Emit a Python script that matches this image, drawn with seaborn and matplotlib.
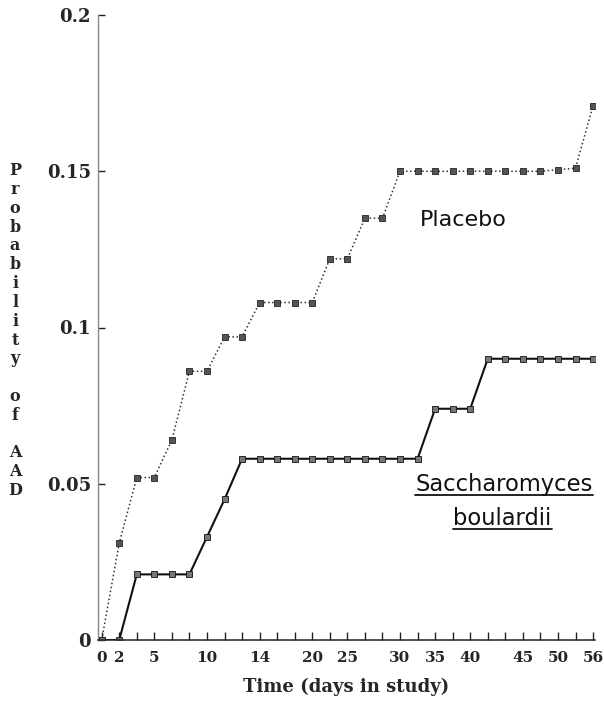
import numpy as np
import pandas as pd
import matplotlib
matplotlib.use("Agg")
import matplotlib.pyplot as plt
from matplotlib.lines import Line2D
import seaborn as sns

# ---- data -------------------------------------------------------------
time_labels = ['0', '2', '', '5', '', '', '10', '', '', '14', '', '', '20', '',
               '25', '', '', '30', '', '35', '', '40', '', '', '45', '', '50', '', '56']
placebo = [0.000, 0.031, 0.052, 0.052, 0.064, 0.086, 0.086, 0.097, 0.097, 0.108,
           0.108, 0.108, 0.108, 0.122, 0.122, 0.135, 0.135, 0.150, 0.150, 0.150,
           0.150, 0.150, 0.150, 0.150, 0.150, 0.150, 0.1505, 0.151, 0.171]
sacch = [0.000, 0.000, 0.021, 0.021, 0.021, 0.021, 0.033, 0.045, 0.058, 0.058,
         0.058, 0.058, 0.058, 0.058, 0.058, 0.058, 0.058, 0.058, 0.058, 0.074,
         0.074, 0.074, 0.090, 0.090, 0.090, 0.090, 0.090, 0.090, 0.090]
y_ticks = [0, 0.05, 0.1, 0.15, 0.2]
y_tick_labels = ['0', '0.05', '0.1', '0.15', '0.2']

pos = np.arange(len(time_labels))
df = pd.DataFrame({'pos': pos, 'Placebo': placebo, 'Sacch': sacch})

sns.set_theme(style="ticks")
plt.rcParams['font.family'] = ['DejaVu Sans']

fig = plt.figure(figsize=(6.04, 7.04), dpi=100)
ax = fig.add_axes([98 / 604, 1 - 640 / 704, 497 / 604, 625 / 704])

sns.lineplot(data=df, x='pos', y='Placebo', ax=ax, color='#333333', linestyle=':',
             linewidth=1.1, marker='s', markersize=3.8, markerfacecolor='#555555',
             markeredgecolor='#222222', markeredgewidth=0.6)
sns.lineplot(data=df, x='pos', y='Sacch', ax=ax, color='#111111', linestyle='-',
             linewidth=1.5, marker='s', markersize=3.8, markerfacecolor='#777777',
             markeredgecolor='#111111', markeredgewidth=0.6)

ax.set_xlim(-0.21, 28.11)
ax.set_ylim(0, 0.2)
ax.set_xticks(pos)
ax.set_xticklabels(time_labels)
ax.set_yticks(y_ticks)
ax.set_yticklabels(y_tick_labels)

serif = ['DejaVu Serif']
for lab in ax.get_xticklabels():
    lab.set_fontfamily(serif); lab.set_fontweight('bold'); lab.set_fontsize(11)
for lab in ax.get_yticklabels():
    lab.set_fontfamily(serif); lab.set_fontweight('bold'); lab.set_fontsize(13)

ax.tick_params(axis='x', direction='in', length=6, width=1, color='#222222', pad=8)
ax.tick_params(axis='y', direction='in', length=5, width=1, color='#222222', pad=5)

sns.despine(ax=ax)
ax.spines['left'].set_color('#888888')
ax.spines['left'].set_linewidth(1.0)
ax.spines['bottom'].set_color('#222222')
ax.spines['bottom'].set_linewidth(1.1)

ax.set_xlabel('Time (days in study)', fontfamily=serif, fontweight='bold',
              fontsize=13, labelpad=9)
ylab = "\n".join(list("Probability")) + "\n\n" + "\n".join(list("of")) + "\n\n" + "\n".join(list("AAD"))
ax.set_ylabel(ylab, rotation=0, fontfamily=serif, fontweight='bold', fontsize=11.5,
              linespacing=1.14, va='center', ha='center')
ax.yaxis.set_label_coords(-0.167, 0.495)

ax.text(0.736, 0.672, 'Placebo', transform=ax.transAxes, ha='center', va='center',
        fontsize=16, color='#111111')
t1 = ax.text(0.817, 0.2496, 'Saccharomyces', transform=ax.transAxes, ha='center',
             va='center', fontsize=16.3, color='#111111')
t2 = ax.text(0.814, 0.195, 'boulardii', transform=ax.transAxes, ha='center',
             va='center', fontsize=16.3, color='#111111')
ax.set_facecolor('white')
fig.patch.set_facecolor('white')

# underline the species name, derived from the text extents
fig.canvas.draw()
r = fig.canvas.get_renderer()
inv = fig.transFigure.inverted()
for t in (t1, t2):
    bb = t.get_window_extent(renderer=r)
    (x0, y0), (x1, y1) = inv.transform([(bb.x0, bb.y0), (bb.x1, bb.y1)])
    fig.add_artist(Line2D([x0, x1], [y0 + 0.001, y0 + 0.001], transform=fig.transFigure,
                          color='#111111', linewidth=1.3))

fig.savefig('out.png', dpi=100)
